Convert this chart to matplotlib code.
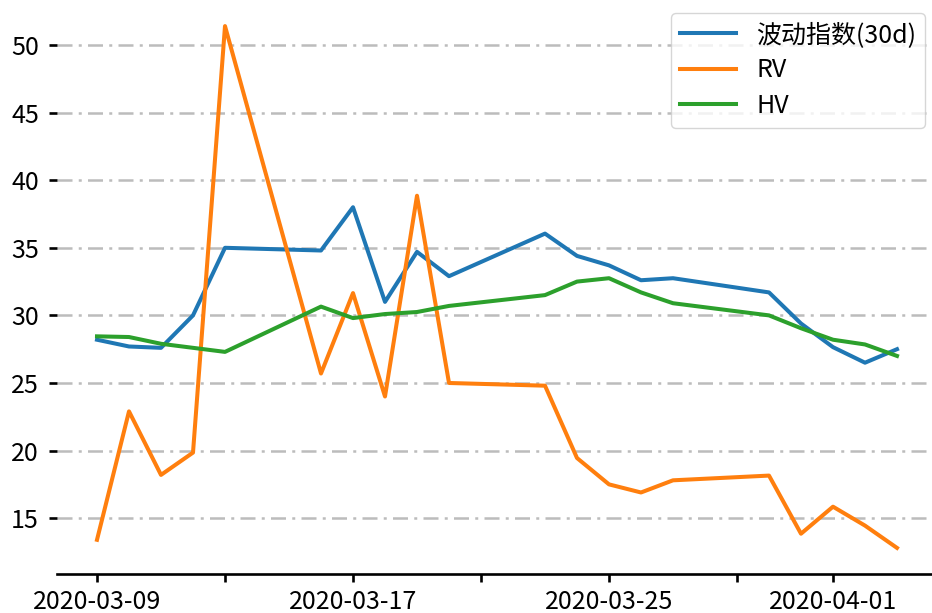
import matplotlib
matplotlib.use("Agg")
import matplotlib.pyplot as plt
import matplotlib.dates as mdates
import pandas as pd

plt.rcParams['font.family'] = ['Noto Sans CJK SC', 'DejaVu Sans']
plt.rcParams['axes.unicode_minus'] = False

dates = ["2020-03-09", "2020-03-10", "2020-03-11", "2020-03-12", "2020-03-13",
         "2020-03-16", "2020-03-17", "2020-03-18", "2020-03-19", "2020-03-20",
         "2020-03-23", "2020-03-24", "2020-03-25", "2020-03-26", "2020-03-27",
         "2020-03-30", "2020-03-31", "2020-04-01", "2020-04-02", "2020-04-03"]
vix = [28.2, 27.7, 27.6, 30.0, 35.0, 34.8, 38.0, 31.0, 34.7, 32.9,
       36.05, 34.4, 33.7, 32.6, 32.75, 31.7, 29.4, 27.65, 26.5, 27.5]
rv = [13.4, 22.9, 18.2, 19.85, 51.4, 25.7, 31.65, 24.0, 38.85, 25.0,
      24.8, 19.45, 17.5, 16.9, 17.8, 18.15, 13.85, 15.85, 14.45, 12.8]
hv = [28.45, 28.4, 27.9, 27.6, 27.3, 30.65, 29.8, 30.1, 30.25, 30.7,
      31.5, 32.5, 32.75, 31.7, 30.9, 30.0, 29.05, 28.2, 27.85, 27.0]
labels = ["波动指数(30d)", "RV", "HV"]
tick_dates = ["2020-03-09", "2020-03-13", "2020-03-17", "2020-03-21",
              "2020-03-25", "2020-03-29", "2020-04-01"]
tick_labels = ["2020-03-09", "", "2020-03-17", "", "2020-03-25", "", "2020-04-01"]
yticks = [15, 20, 25, 30, 35, 40, 45, 50]

x = pd.to_datetime(dates)

fig = plt.figure(figsize=(9.32, 6.13), dpi=100)
W, H = 932, 613
ax = fig.add_axes([57 / W, (H - 574) / H, 880 / W, 574 / H])

colors = ["#1f77b4", "#ff7f0e", "#2ca02c"]
for series, lab, c in zip([vix, rv, hv], labels, colors):
    ax.plot(x, series, color=c, lw=2.9, label=lab)

ax.set_xlim(x[0] - pd.Timedelta(days=1.25), x[-1] + pd.Timedelta(days=1.25))
ax.set_ylim(10.87, 53.33)

ax.set_xticks(pd.to_datetime(tick_dates))
ax.set_xticklabels(tick_labels)
ax.set_yticks(yticks)
ax.set_yticklabels([str(v) for v in yticks])

ax.grid(axis='y', linestyle=(0, (6, 2.5, 1.2, 2.5)), color='#bcbcbc', lw=1.8)
ax.set_axisbelow(True)
for s in ['top', 'right', 'left']:
    ax.spines[s].set_visible(False)
ax.spines['bottom'].set_linewidth(1.9)

ax.tick_params(axis='x', labelsize=18, length=6, width=1.9, pad=5)
ax.tick_params(axis='y', labelsize=18, length=6, width=1.9, pad=7)

leg = ax.legend(loc='upper right', bbox_to_anchor=(925 / W, 1 - 13 / H),
                bbox_transform=fig.transFigure, borderaxespad=0,
                fontsize=18, handlelength=2.25, handletextpad=0.8,
                labelspacing=0.38, borderpad=0.35,
                fancybox=True, framealpha=0.8, edgecolor='#cccccc')

fig.savefig("out.png", dpi=100)
